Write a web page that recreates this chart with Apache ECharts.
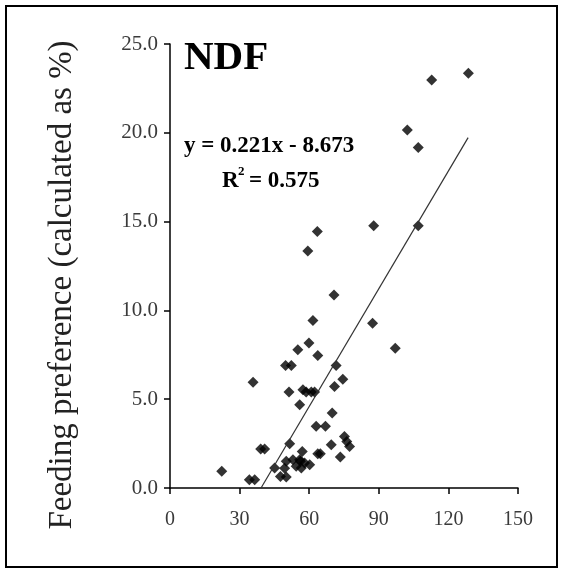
<!DOCTYPE html>
<html><head><meta charset="utf-8">
<script src="https://cdn.jsdelivr.net/npm/echarts@6/dist/echarts.min.js"></script>
<style>html,body{margin:0;padding:0;background:#fff}#chart{width:564px;height:574px}</style>
</head><body><div id="chart"></div>
<script>
// NDF (x) values
var ndfX = [128.6,112.8,102.3,107.0,107.0,87.8,63.5,59.4,70.7,87.3,61.6,97.1,59.9,55.1,63.7,49.8,52.3,71.6,35.8,74.5,70.9,57.3,58.7,60.9,62.3,51.3,55.9,69.9,63.0,67.0,51.6,39.1,40.8,69.5,75.2,76.2,77.4,73.4,57.0,63.7,64.8,22.3,34.2,36.5,45.1,47.6,50.1,50.1,53.0,55.9,58.0,60.2,54.4,56.6,49.4,56.2];
// Feeding preference (%) values
var prefY = [23.35,22.98,20.16,19.17,14.77,14.77,14.44,13.34,10.87,9.27,9.43,7.87,8.16,7.78,7.46,6.90,6.90,6.90,5.96,6.13,5.72,5.53,5.40,5.40,5.40,5.40,4.69,4.22,3.47,3.47,2.49,2.19,2.19,2.44,2.90,2.62,2.34,1.74,2.06,1.93,1.93,0.95,0.47,0.47,1.13,0.65,0.62,1.50,1.59,1.59,1.41,1.31,1.22,1.13,1.11,1.50];
var xTicks = [0,30,60,90,120,150];
var yTicks = [0,5,10,15,20,25];
var slope = 0.221, intercept = -8.673;
var trendX = [39.24, 128.5];

var pts = ndfX.map(function(x,i){return [x, prefY[i]];});
var trend = trendX.map(function(x){return [x, slope*x+intercept];});
var serif = '"Liberation Serif","Times New Roman",serif';
var chart = echarts.init(document.getElementById('chart'));
chart.setOption({
  animation:false,
  backgroundColor:'#fff',
  grid:{left:170,right:46,top:44,bottom:86},
  xAxis:{type:'value',min:xTicks[0],max:xTicks[xTicks.length-1],interval:30,
    splitLine:{show:false},
    axisLine:{lineStyle:{color:'#000',width:1.5}},
    axisTick:{show:true,length:6,inside:false,lineStyle:{color:'#000',width:1.5}},
    axisLabel:{fontFamily:serif,fontSize:20,color:'#3a3a3a',margin:22}},
  yAxis:{type:'value',min:yTicks[0],max:yTicks[yTicks.length-1],interval:5,
    splitLine:{show:false},
    axisLine:{show:true,lineStyle:{color:'#000',width:1.5}},
    axisTick:{show:true,length:6,inside:false,lineStyle:{color:'#000',width:1.5}},
    axisLabel:{fontFamily:serif,fontSize:21,color:'#3a3a3a',margin:12,formatter:function(v){return v.toFixed(1);}}},
  series:[
    {type:'scatter',data:pts,symbol:'diamond',symbolSize:[11,11],itemStyle:{color:'#000'}},
    {type:'line',data:trend,symbol:'none',lineStyle:{color:'#333',width:1.2},silent:true}
  ],
  graphic:[
    {type:'rect',shape:{x:6,y:6,width:551,height:561},style:{fill:'none',stroke:'#000',lineWidth:2}},
    {type:'text',x:62,y:285,rotation:Math.PI/2,style:{text:'Feeding preference (calculated as %)',font:'33px '+serif,fill:'#222',align:'center',verticalAlign:'middle'}},
    {type:'text',x:184,y:58,style:{text:'NDF',font:'bold 41px '+serif,fill:'#000',align:'left',verticalAlign:'middle'}},
    {type:'text',x:184,y:146,style:{text:'y = 0.221x - 8.673',font:'bold 23px '+serif,fill:'#000',align:'left',verticalAlign:'middle'}},
    {type:'text',x:222,y:181,style:{text:'R',font:'bold 23px '+serif,fill:'#000',align:'left',verticalAlign:'middle'}},
    {type:'text',x:238,y:172,style:{text:'2',font:'bold 13px '+serif,fill:'#000',align:'left',verticalAlign:'middle'}},
    {type:'text',x:249,y:181,style:{text:'= 0.575',font:'bold 23px '+serif,fill:'#000',align:'left',verticalAlign:'middle'}}
  ]
});
</script></body></html>
